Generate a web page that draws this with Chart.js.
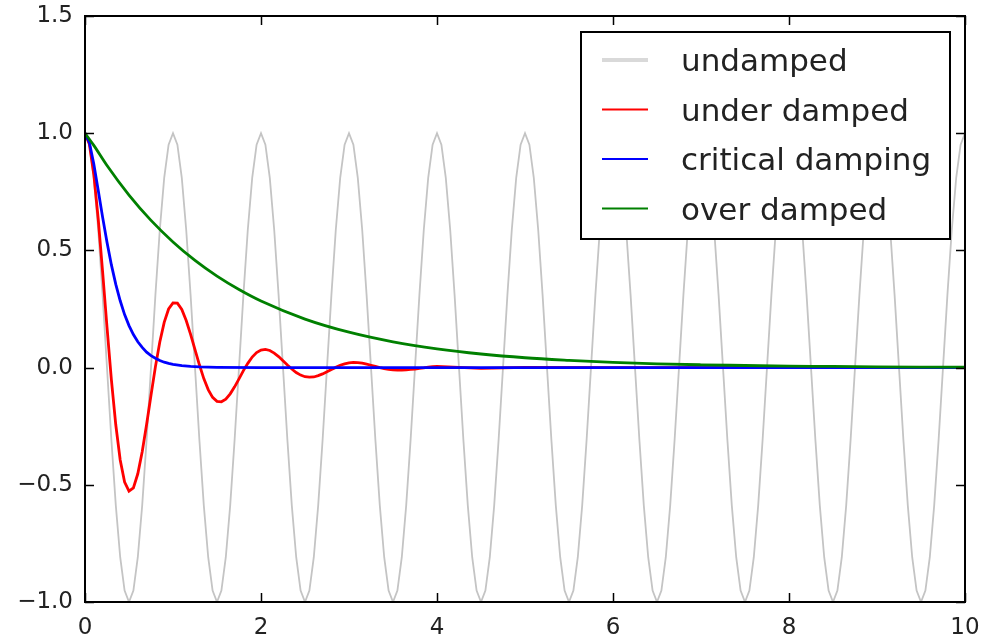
<!DOCTYPE html>
<html>
<head>
<meta charset="utf-8">
<script src="https://cdn.jsdelivr.net/npm/chart.js@4/dist/chart.umd.min.js"></script>
<style>
  body { margin: 0; background: #fff; }
  #wrap { width: 982px; height: 638px; }
</style>
</head>
<body>
<div id="wrap"><canvas id="myChart" width="982" height="638"></canvas></div>
<script>
// time axis, step 0.05 from 0 to 10
const t = [
  0,0.05,0.1,0.15,0.2,0.25,0.3,0.35,0.4,0.45,0.5,0.55,0.6,0.65,0.7,0.75,0.8,0.85,0.9,0.95,
  1,1.05,1.1,1.15,1.2,1.25,1.3,1.35,1.4,1.45,1.5,1.55,1.6,1.65,1.7,1.75,1.8,1.85,1.9,1.95,
  2,2.05,2.1,2.15,2.2,2.25,2.3,2.35,2.4,2.45,2.5,2.55,2.6,2.65,2.7,2.75,2.8,2.85,2.9,2.95,
  3,3.05,3.1,3.15,3.2,3.25,3.3,3.35,3.4,3.45,3.5,3.55,3.6,3.65,3.7,3.75,3.8,3.85,3.9,3.95,
  4,4.05,4.1,4.15,4.2,4.25,4.3,4.35,4.4,4.45,4.5,4.55,4.6,4.65,4.7,4.75,4.8,4.85,4.9,4.95,
  5,5.05,5.1,5.15,5.2,5.25,5.3,5.35,5.4,5.45,5.5,5.55,5.6,5.65,5.7,5.75,5.8,5.85,5.9,5.95,
  6,6.05,6.1,6.15,6.2,6.25,6.3,6.35,6.4,6.45,6.5,6.55,6.6,6.65,6.7,6.75,6.8,6.85,6.9,6.95,
  7,7.05,7.1,7.15,7.2,7.25,7.3,7.35,7.4,7.45,7.5,7.55,7.6,7.65,7.7,7.75,7.8,7.85,7.9,7.95,
  8,8.05,8.1,8.15,8.2,8.25,8.3,8.35,8.4,8.45,8.5,8.55,8.6,8.65,8.7,8.75,8.8,8.85,8.9,8.95,
  9,9.05,9.1,9.15,9.2,9.25,9.3,9.35,9.4,9.45,9.5,9.55,9.6,9.65,9.7,9.75,9.8,9.85,9.9,9.95,
  10
];

const undamped = [
  1,0.951,0.809,0.588,0.309,0,-0.309,-0.588,-0.809,-0.951,-1,-0.951,-0.809,-0.588,-0.309,0,0.309,0.588,0.809,0.951,
  1,0.951,0.809,0.588,0.309,0,-0.309,-0.588,-0.809,-0.951,-1,-0.951,-0.809,-0.588,-0.309,0,0.309,0.588,0.809,0.951,
  1,0.951,0.809,0.588,0.309,0,-0.309,-0.588,-0.809,-0.951,-1,-0.951,-0.809,-0.588,-0.309,0,0.309,0.588,0.809,0.951,
  1,0.951,0.809,0.588,0.309,0,-0.309,-0.588,-0.809,-0.951,-1,-0.951,-0.809,-0.588,-0.309,0,0.309,0.588,0.809,0.951,
  1,0.951,0.809,0.588,0.309,0,-0.309,-0.588,-0.809,-0.951,-1,-0.951,-0.809,-0.588,-0.309,0,0.309,0.588,0.809,0.951,
  1,0.951,0.809,0.588,0.309,0,-0.309,-0.588,-0.809,-0.951,-1,-0.951,-0.809,-0.588,-0.309,0,0.309,0.588,0.809,0.951,
  1,0.951,0.809,0.588,0.309,0,-0.309,-0.588,-0.809,-0.951,-1,-0.951,-0.809,-0.588,-0.309,0,0.309,0.588,0.809,0.951,
  1,0.951,0.809,0.588,0.309,0,-0.309,-0.588,-0.809,-0.951,-1,-0.951,-0.809,-0.588,-0.309,0,0.309,0.588,0.809,0.951,
  1,0.951,0.809,0.588,0.309,0,-0.309,-0.588,-0.809,-0.951,-1,-0.951,-0.809,-0.588,-0.309,0,0.309,0.588,0.809,0.951,
  1,0.951,0.809,0.588,0.309,0,-0.309,-0.588,-0.809,-0.951,-1,-0.951,-0.809,-0.588,-0.309,0,0.309,0.588,0.809,0.951,
  1
];

// under damped: dense up to t=4, flat after
const tUnder = t.slice(0, 81).concat([4.5, 5, 6, 7, 8, 9, 10]);
const underDamped = [
  1.000,0.953,0.824,0.635,0.409,0.173,-0.052,-0.245,-0.394,-0.488,
  -0.527,-0.513,-0.453,-0.359,-0.243,-0.118,0.003,0.109,0.193,0.250,
  0.276,0.275,0.248,0.201,0.142,0.077,0.012,-0.047,-0.094,-0.127,
  -0.144,-0.146,-0.135,-0.112,-0.082,-0.048,-0.013,0.018,0.045,0.064,
  0.075,0.078,0.073,0.062,0.047,0.029,0.011,-0.006,-0.021,-0.032,
  -0.039,-0.041,-0.040,-0.034,-0.027,-0.018,-0.008,0.001,0.010,0.016,
  0.020,0.022,0.021,0.019,0.015,0.010,0.005,0.000,-0.004,-0.008,
  -0.010,-0.011,-0.011,-0.010,-0.008,-0.006,-0.003,-0.001,0.002,0.004,
  0.005,
  -0.003,0.001,0,0,0,0,0
];

const tCritical = t.slice(0, 21).concat([1.1, 1.2, 1.3, 1.4, 1.5, 2, 3, 4, 5, 6, 7, 8, 9, 10]);
const critical = [
  1,0.960,0.869,0.757,0.642,0.535,0.438,0.355,0.285,0.226,
  0.179,0.141,0.110,0.086,0.066,0.051,0.040,0.030,0.023,0.018,
  0.014,
  0.008,0.005,0.003,0.002,0.001,0,0,0,0,0,0,0,0,0
];

const tOver = [0,0.1,0.25,0.5,0.75,1,1.25,1.5,1.75,2,2.5,3,3.5,4,4.5,5,5.5,6,6.5,7,7.5,8,8.5,9,9.5,10];
const overDamped = [1,0.948,0.862,0.736,0.628,0.536,0.457,0.390,0.333,0.284,0.207,0.151,0.110,0.080,0.058,0.042,0.031,0.022,0.016,0.012,0.009,0.006,0.005,0.003,0.002,0.002];

const xTicks = [0, 2, 4, 6, 8, 10];
const xTickLabels = ['0', '2', '4', '6', '8', '10'];
const yTicks = [-1, -0.5, 0, 0.5, 1, 1.5];
const yTickLabels = ['\u22121.0', '\u22120.5', '0.0', '0.5', '1.0', '1.5'];

function pts(xs, ys) {
  return xs.map((x, i) => ({ x: x, y: ys[i] }));
}

// matplotlib style box with inward ticks on all sides
const frame = {
  id: 'frame',
  afterDatasetsDraw(chart) {
    const { ctx, chartArea: a, scales: { x, y } } = chart;
    const len = 9;
    ctx.save();
    ctx.strokeStyle = '#000';
    ctx.lineWidth = 1.5;
    ctx.beginPath();
    x.ticks.forEach(tk => {
      const px = Math.round(x.getPixelForValue(tk.value)) + 0.5;
      ctx.moveTo(px, a.bottom); ctx.lineTo(px, a.bottom - len);
      ctx.moveTo(px, a.top); ctx.lineTo(px, a.top + len);
    });
    y.ticks.forEach(tk => {
      const py = Math.round(y.getPixelForValue(tk.value)) + 0.5;
      ctx.moveTo(a.left, py); ctx.lineTo(a.left + len, py);
      ctx.moveTo(a.right, py); ctx.lineTo(a.right - len, py);
    });
    ctx.stroke();
    ctx.lineWidth = 2;
    ctx.strokeRect(a.left, a.top, a.right - a.left, a.bottom - a.top);
    ctx.restore();
  }
};

// boxed legend in the upper right corner
const boxLegend = {
  id: 'boxLegend',
  afterDraw(chart) {
    const ctx = chart.ctx;
    const a = chart.chartArea;
    const bx = a.right - 384, by = a.top + 16, bw = 369, bh = 207;
    ctx.save();
    ctx.fillStyle = '#fff';
    ctx.fillRect(bx, by, bw, bh);
    ctx.strokeStyle = '#000';
    ctx.lineWidth = 2;
    ctx.strokeRect(bx, by, bw, bh);
    ctx.font = '31px "DejaVu Sans"';
    ctx.textBaseline = 'alphabetic';
    ctx.fillStyle = '#222';
    const sets = chart.data.datasets.slice().reverse();
    sets.forEach((ds, i) => {
      const cy = by + 28 + i * 49.5;
      ctx.strokeStyle = ds.legendColor || ds.borderColor;
      ctx.lineWidth = ds.legendWidth || 2;
      ctx.beginPath();
      ctx.moveTo(bx + 21, cy);
      ctx.lineTo(bx + 67, cy);
      ctx.stroke();
      ctx.fillText(ds.label, bx + 100, cy + 11);
    });
    ctx.restore();
  }
};

const datasets = [
  { label: 'undamped', data: pts(t, undamped), borderColor: '#c4c4c4', borderWidth: 1.8, legendColor: '#d9d9d9', legendWidth: 4 },
  { label: 'under damped', data: pts(tUnder, underDamped), borderColor: '#ff0000', borderWidth: 2.8, legendWidth: 2 },
  { label: 'critical damping', data: pts(tCritical, critical), borderColor: '#0000ff', borderWidth: 2.8, legendWidth: 2 },
  { label: 'over damped', data: pts(tOver, overDamped), borderColor: '#008000', borderWidth: 2.8, legendWidth: 2, cubicInterpolationMode: 'monotone' }
];

Chart.defaults.font.family = '"DejaVu Sans", sans-serif';
Chart.defaults.color = '#222';

const ctx = document.getElementById('myChart');
new Chart(ctx, {
  type: 'line',
  // reversed so the first series sits at the bottom, like matplotlib
  data: { datasets: datasets.slice().reverse() },
  options: {
    responsive: false,
    animation: false,
    elements: { point: { radius: 0 }, line: { tension: 0 } },
    layout: { padding: { top: 16, right: 17, left: 0, bottom: 0 } },
    plugins: { legend: { display: false }, tooltip: { enabled: false } },
    scales: {
      x: {
        type: 'linear',
        min: 0,
        max: 10,
        grid: { display: false, drawTicks: false },
        border: { display: false },
        afterBuildTicks: s => { s.ticks = xTicks.map(v => ({ value: v })); },
        afterFit: s => { s.height = 36; s.paddingLeft = 0; s.paddingRight = 0; },
        ticks: {
          font: { size: 23 },
          padding: 12,
          maxRotation: 0,
          autoSkip: false,
          callback: (v, i) => xTickLabels[i]
        }
      },
      y: {
        min: -1,
        max: 1.5,
        grid: { display: false, drawTicks: false },
        border: { display: false },
        afterBuildTicks: s => { s.ticks = yTicks.map(v => ({ value: v })); },
        afterFit: s => { s.width = 85; s.paddingTop = 0; s.paddingBottom = 0; },
        ticks: {
          font: { size: 23 },
          padding: 12,
          autoSkip: false,
          callback: (v, i) => yTickLabels[i]
        }
      }
    }
  },
  plugins: [frame, boxLegend]
});
</script>
</body>
</html>
